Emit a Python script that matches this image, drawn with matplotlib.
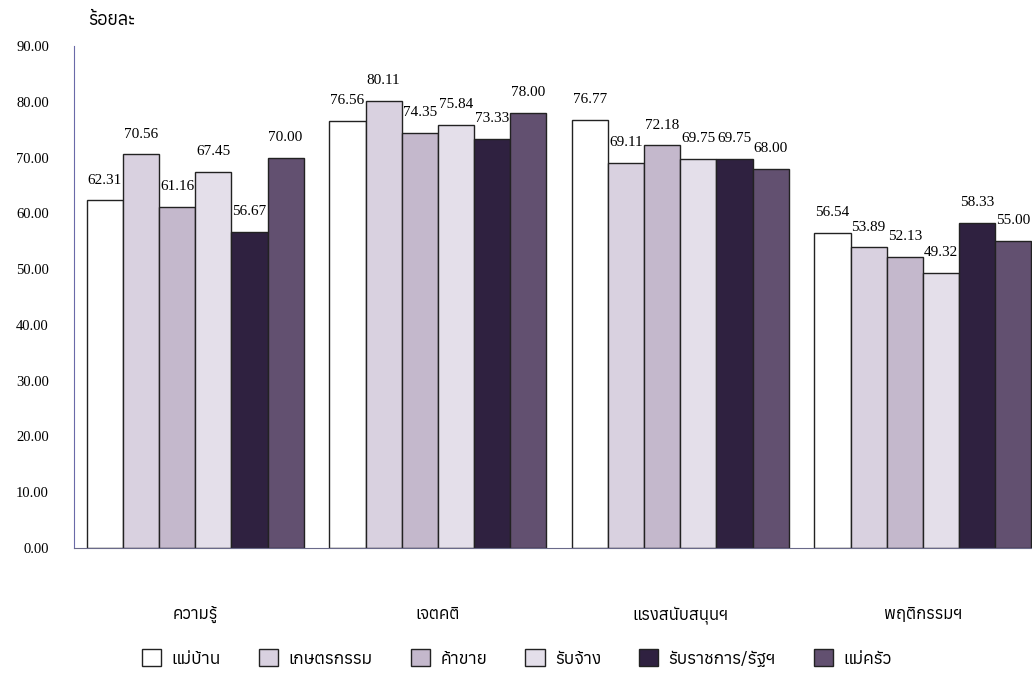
import matplotlib
matplotlib.use("Agg")
import numpy as np
import matplotlib.pyplot as plt
from matplotlib import font_manager, ft2font

# หา font ที่มีอักษรไทย
def has_thai(path):
    try:
        return 0x0E01 in ft2font.FT2Font(path).get_charmap()
    except Exception:
        return False

thai_fonts = sorted({f.name for f in font_manager.fontManager.ttflist if has_thai(f.fname)})
families = thai_fonts[:1] + ['DejaVu Sans']
plt.rcParams['font.family'] = families

categories = ['ความรู้', 'เจตคติ', 'แรงสนับสนุนฯ', 'พฤติกรรมฯ']
series_names = ['แม่บ้าน', 'เกษตรกรรม', 'ค้าขาย', 'รับจ้าง', 'รับราชการ/รัฐฯ', 'แม่ครัว']
mae_ban = [62.31, 76.56, 76.77, 56.54]
kaset = [70.56, 80.11, 69.11, 53.89]
kha_khai = [61.16, 74.35, 72.18, 52.13]
rap_jang = [67.45, 75.84, 69.75, 49.32]
ratchakan = [56.67, 73.33, 69.75, 58.33]
mae_khrua = [70.00, 78.00, 68.00, 55.00]
y_ticks = [0, 10, 20, 30, 40, 50, 60, 70, 80, 90]

series = [mae_ban, kaset, kha_khai, rap_jang, ratchakan, mae_khrua]
colors = ['#ffffff', '#d9d1e0', '#c4b8cc', '#e4dfea', '#2f2140', '#625070']

fig = plt.figure(figsize=(10.32, 6.88), dpi=100)
ax = fig.add_axes([74 / 1032, 1 - 548 / 688, 1 - 74 / 1032, (548 - 46) / 688])

x = np.arange(len(categories))
w = 0.149
for i, (vals, c) in enumerate(zip(series, colors)):
    pos = x + (i - 2.5) * w
    ax.bar(pos, vals, w, color=c, edgecolor='#222222', linewidth=1.0, label=series_names[i])
    for p, v in zip(pos, vals):
        ax.annotate('%.2f' % v, (p, v), xytext=(0, 10), textcoords='offset points',
                    ha='center', va='bottom', fontsize=11, family='Liberation Serif')

ax.set_ylim(0, 90)
ax.set_xlim(-0.5, 3.45)
ax.set_yticks(y_ticks)
ax.set_yticklabels(['%.2f' % t for t in y_ticks], fontsize=10.5, family='Liberation Serif')
ax.set_xticks(x)
ax.set_xticklabels(categories, fontsize=12)
ax.tick_params(axis='both', length=0)
ax.tick_params(axis='x', pad=42)
ax.tick_params(axis='y', pad=18)
for s in ['top', 'right']:
    ax.spines[s].set_visible(False)
ax.spines['left'].set_color('#6a6aa8')
ax.spines['bottom'].set_color('#6a6a8a')

fig.text(88 / 1032, 1 - 20 / 688, 'ร้อยละ', fontsize=13, fontweight='bold', va='center')

fig.legend(loc='center', bbox_to_anchor=(517 / 1032, 1 - 658 / 688), ncol=6, frameon=False,
           fontsize=12.5, handlelength=1.1, handleheight=1.1, columnspacing=2.2, handletextpad=0.6)

fig.savefig('out.png', dpi=100)
